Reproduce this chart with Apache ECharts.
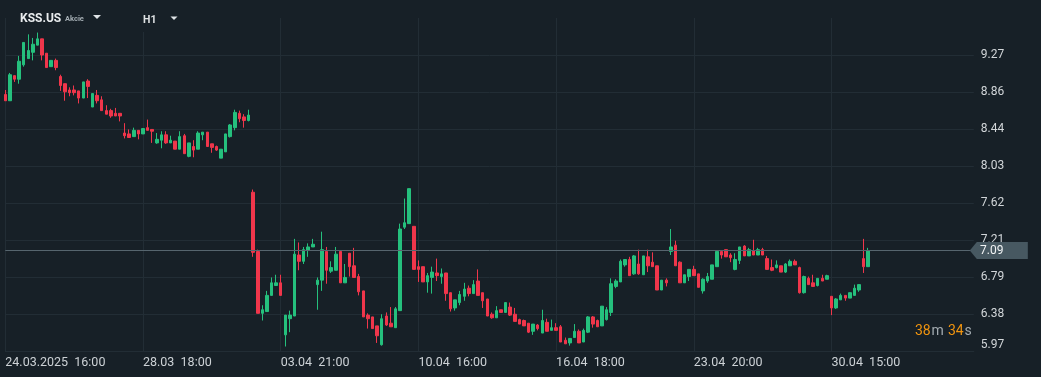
<!DOCTYPE html>
<html>
<head>
<meta charset="utf-8">
<title>KSS.US H1</title>
<script src="https://cdn.jsdelivr.net/npm/echarts@6.0.0/dist/echarts.min.js"></script>
<style>
  html, body { margin: 0; padding: 0; background: #172027; }
  #main { width: 1041px; height: 377px; }
</style>
</head>
<body>
<div id="main"></div>
<script type="text/javascript">
// H1 candles (open / close / low / high)
var opens = [
  8.83, 8.76, 9.04, 9.00, 9.16, 9.23, 9.30, 9.38, 9.45, 9.29,
  9.14, 9.21, 9.03, 8.95, 8.88, 8.88, 8.87, 8.79, 8.98, 8.69,
  8.82, 8.77, 8.65, 8.65, 8.62, 8.62, 8.40, 8.39, 8.36, 8.43,
  8.39, 8.46, 8.44, 8.29, 8.32, 8.38, 8.29, 8.31, 8.22, 8.37,
  8.14, 8.25, 8.22, 8.38, 8.41, 8.28, 8.25, 8.12, 8.19, 8.36,
  8.46, 8.62, 8.58, 8.54, 7.74, 7.08, 6.39, 6.41, 6.59, 6.70,
  6.73, 6.15, 6.33, 6.36, 7.04, 6.97, 7.09, 7.13, 6.71, 6.76,
  7.08, 6.86, 6.87, 7.08, 6.73, 7.06, 6.92, 6.80, 6.64, 6.37,
  6.35, 6.25, 6.04, 6.36, 6.28, 6.23, 6.42, 7.35, 7.39, 7.36,
  6.91, 6.91, 6.74, 6.79, 6.84, 6.80, 6.84, 6.62, 6.45, 6.51,
  6.58, 6.67, 6.61, 6.75, 6.62, 6.55, 6.38, 6.34, 6.43, 6.40,
  6.46, 6.38, 6.32, 6.31, 6.28, 6.19, 6.26, 6.17, 6.29, 6.20,
  6.23, 6.24, 6.09, 6.06, 6.12, 6.19, 6.07, 6.18, 6.35, 6.31,
  6.25, 6.32, 6.40, 6.69, 6.74, 6.93, 6.99, 6.83, 6.94, 6.82,
  7.02, 6.96, 6.92, 6.65, 6.76, 7.08, 7.15, 6.96, 6.73, 6.80,
  6.88, 6.83, 6.64, 6.75, 6.77, 6.91, 7.08, 7.10, 7.04, 6.88,
  6.98, 7.14, 7.03, 7.09, 7.04, 7.10, 7.00, 6.90, 6.90, 6.92,
  6.85, 6.92, 6.97, 6.90, 6.62, 6.78, 6.73, 6.70, 6.78, 6.77,
  6.58, 6.45, 6.54, 6.59, 6.56, 6.59, 6.65, 7.00, 6.91
];
var closes = [
  8.76, 9.05, 9.00, 9.20, 9.41, 9.32, 9.39, 9.45, 9.27, 9.13,
  9.21, 9.13, 8.93, 8.86, 8.85, 8.85, 8.79, 8.97, 8.92, 8.84,
  8.76, 8.65, 8.61, 8.59, 8.59, 8.59, 8.37, 8.35, 8.43, 8.39,
  8.45, 8.43, 8.42, 8.33, 8.38, 8.29, 8.32, 8.22, 8.36, 8.17,
  8.29, 8.21, 8.40, 8.41, 8.25, 8.24, 8.21, 8.22, 8.39, 8.49,
  8.63, 8.56, 8.54, 8.60, 7.07, 6.39, 6.43, 6.59, 6.73, 6.73,
  6.59, 6.37, 6.37, 7.05, 6.97, 7.10, 7.13, 7.16, 6.76, 7.10,
  6.87, 6.90, 7.05, 6.73, 6.79, 6.91, 6.79, 6.63, 6.35, 6.33,
  6.22, 6.14, 6.33, 6.26, 6.24, 6.44, 7.33, 7.40, 7.78, 6.88,
  6.88, 6.74, 6.81, 6.85, 6.81, 6.83, 6.61, 6.44, 6.54, 6.60,
  6.66, 6.61, 6.71, 6.59, 6.53, 6.36, 6.34, 6.42, 6.40, 6.51,
  6.37, 6.30, 6.27, 6.25, 6.18, 6.27, 6.22, 6.31, 6.19, 6.23,
  6.20, 6.07, 6.05, 6.11, 6.19, 6.06, 6.20, 6.35, 6.27, 6.24,
  6.47, 6.43, 6.72, 6.75, 6.97, 6.99, 6.81, 7.03, 6.83, 7.03,
  6.92, 6.91, 6.65, 6.76, 6.73, 7.13, 6.92, 6.73, 6.82, 6.88,
  6.81, 6.68, 6.77, 6.80, 6.93, 7.08, 7.04, 7.02, 7.01, 6.99,
  7.13, 7.03, 7.10, 7.04, 7.10, 7.04, 6.88, 6.87, 6.93, 6.85,
  6.94, 6.97, 6.93, 6.62, 6.80, 6.71, 6.69, 6.78, 6.75, 6.81,
  6.45, 6.55, 6.59, 6.56, 6.62, 6.67, 6.71, 6.91, 7.09
];
var lows = [
  8.76, 8.76, 8.97, 8.95, 9.14, 9.23, 9.21, 9.38, 9.21, 9.13,
  9.14, 9.10, 8.87, 8.76, 8.81, 8.82, 8.73, 8.79, 8.79, 8.69,
  8.73, 8.65, 8.61, 8.57, 8.59, 8.53, 8.34, 8.35, 8.36, 8.33,
  8.39, 8.43, 8.29, 8.28, 8.23, 8.28, 8.29, 8.22, 8.22, 8.17,
  8.13, 8.13, 8.22, 8.32, 8.25, 8.18, 8.20, 8.12, 8.19, 8.35,
  8.43, 8.52, 8.46, 8.53, 7.02, 6.39, 6.31, 6.41, 6.59, 6.70,
  6.59, 6.02, 6.18, 6.36, 6.87, 6.94, 7.02, 7.13, 6.43, 6.64,
  6.72, 6.84, 6.87, 6.73, 6.73, 6.80, 6.79, 6.59, 6.35, 6.22,
  6.22, 6.06, 6.03, 6.25, 6.24, 6.23, 6.42, 7.33, 7.39, 6.88,
  6.74, 6.74, 6.62, 6.61, 6.75, 6.72, 6.53, 6.41, 6.42, 6.48,
  6.53, 6.58, 6.61, 6.59, 6.45, 6.36, 6.33, 6.34, 6.40, 6.40,
  6.36, 6.30, 6.27, 6.25, 6.17, 6.15, 6.20, 6.17, 6.19, 6.20,
  6.20, 6.07, 6.05, 6.03, 6.12, 6.06, 6.07, 6.17, 6.23, 6.24,
  6.25, 6.31, 6.36, 6.67, 6.74, 6.91, 6.81, 6.82, 6.82, 6.82,
  6.85, 6.91, 6.65, 6.65, 6.69, 7.04, 6.92, 6.73, 6.73, 6.75,
  6.81, 6.68, 6.61, 6.73, 6.77, 6.91, 7.00, 7.02, 6.96, 6.87,
  6.94, 7.03, 7.03, 7.04, 7.04, 7.04, 6.88, 6.86, 6.89, 6.85,
  6.84, 6.92, 6.93, 6.61, 6.61, 6.71, 6.69, 6.69, 6.75, 6.77,
  6.37, 6.44, 6.54, 6.53, 6.56, 6.59, 6.63, 6.84, 6.91
];
var highs = [
  8.88, 9.07, 9.04, 9.26, 9.41, 9.50, 9.46, 9.52, 9.45, 9.29,
  9.21, 9.23, 9.05, 8.95, 8.91, 8.93, 8.87, 8.97, 9.00, 8.84,
  8.88, 8.81, 8.71, 8.67, 8.68, 8.62, 8.51, 8.44, 8.46, 8.43,
  8.45, 8.55, 8.44, 8.40, 8.42, 8.42, 8.37, 8.31, 8.42, 8.39,
  8.29, 8.32, 8.42, 8.41, 8.41, 8.28, 8.26, 8.22, 8.39, 8.50,
  8.66, 8.65, 8.61, 8.66, 7.77, 7.10, 6.48, 6.64, 6.79, 6.82,
  6.82, 6.37, 6.42, 7.22, 7.18, 7.13, 7.17, 7.22, 6.79, 7.30,
  7.13, 6.97, 7.13, 7.08, 6.94, 7.06, 7.12, 6.83, 6.64, 6.39,
  6.35, 6.25, 6.38, 6.40, 6.46, 6.46, 7.39, 7.67, 7.78, 7.36,
  6.98, 6.91, 6.84, 6.91, 7.00, 6.89, 6.84, 6.62, 6.54, 6.64,
  6.73, 6.70, 6.76, 6.88, 6.62, 6.55, 6.40, 6.47, 6.43, 6.51,
  6.51, 6.45, 6.33, 6.32, 6.28, 6.27, 6.27, 6.43, 6.33, 6.32,
  6.28, 6.26, 6.12, 6.11, 6.27, 6.21, 6.22, 6.36, 6.36, 6.32,
  6.47, 6.46, 6.78, 6.77, 6.99, 6.99, 7.02, 7.04, 7.10, 7.03,
  7.10, 7.07, 6.92, 6.76, 6.78, 7.33, 7.20, 6.97, 6.82, 6.88,
  6.92, 6.83, 6.78, 6.84, 6.93, 7.08, 7.08, 7.10, 7.06, 7.06,
  7.13, 7.15, 7.12, 7.21, 7.12, 7.12, 7.03, 6.99, 6.98, 6.92,
  6.95, 6.99, 6.99, 6.91, 6.81, 6.80, 6.82, 6.78, 6.82, 6.82,
  6.58, 6.56, 6.61, 6.59, 6.62, 6.71, 6.71, 7.22, 7.12
];

// time labels and the candle they sit on
var xLabels = ['24.03.2025  16:00', '28.03  18:00', '03.04  21:00', '10.04  16:00', '16.04  18:00', '23.04  20:00', '30.04  15:00'];
var xLabelIdx = [0, 30, 60, 90, 120, 150, 180];

// price scale
var yTicks = [5.97, 6.38, 6.79, 7.21, 7.62, 8.03, 8.44, 8.86, 9.27];
var yMin = 5.97, yStep = 0.4125, yMax = 9.6825;
var lastPrice = 7.09;

// slots on the time axis (empty space on the right after the last candle)
var slots = 212;
var cats = [];
for (var i = 0; i < slots; i++) { cats.push(String(i)); }

var data = [];
for (var j = 0; j < opens.length; j++) {
  data.push([opens[j], closes[j], lows[j], highs[j]]);
}

var bg = '#172027';
var gridColor = '#222d35';
var upColor = '#25c07d';
var downColor = '#f0364b';

var myChart = echarts.init(document.getElementById('main'));
var option = {
  backgroundColor: bg,
  animation: false,
  textStyle: { fontFamily: 'Roboto' },
  grid: { left: 5.3, right: 67.2, top: 18, bottom: 26 },
  xAxis: {
    type: 'category',
    data: cats,
    boundaryGap: false,
    axisLine: { show: true, lineStyle: { color: gridColor } },
    axisTick: { show: false },
    axisLabel: {
      interval: function (idx) { return xLabelIdx.indexOf(idx) >= 0; },
      formatter: function (val, idx) {
        var k = xLabelIdx.indexOf(Number(val));
        return k >= 0 ? xLabels[k] : '';
      },
      color: '#cdd2d6',
      fontSize: 12.5,
      align: 'left',
      margin: 5
    },
    splitLine: {
      show: true,
      interval: function (idx) { return xLabelIdx.indexOf(idx) >= 0; },
      lineStyle: { color: gridColor }
    }
  },
  yAxis: {
    type: 'value',
    position: 'right',
    min: yMin,
    max: yMax,
    interval: yStep,
    axisLine: { show: false },
    axisTick: { show: false },
    axisLabel: {
      showMaxLabel: false,
      verticalAlignMinLabel: 'bottom',
      color: '#d2d6d9',
      fontSize: 12,
      align: 'left',
      margin: 7,
      formatter: function (v) {
        var best = 0;
        for (var t = 1; t < yTicks.length; t++) {
          if (Math.abs(yTicks[t] - v) < Math.abs(yTicks[best] - v)) best = t;
        }
        return yTicks[best].toFixed(2);
      }
    },
    splitLine: { show: true, showMaxLine: false, showMinLine: false, lineStyle: { color: gridColor } }
  },
  series: [{
    type: 'candlestick',
    data: data,
    barWidth: 3,
    clip: false,
    itemStyle: {
      color: upColor,
      color0: downColor,
      borderColor: upColor,
      borderColor0: downColor,
      borderWidth: 1
    },
    markLine: {
      silent: true,
      symbol: ['none', 'none'],
      label: { show: false },
      lineStyle: { color: '#56656e', width: 1, type: 'solid' },
      data: [{ yAxis: lastPrice }]
    },
    markPoint: {
      silent: true,
      symbol: 'path://M0,8.5L7,0L58,0L58,17L7,17Z',
      symbolSize: [58, 17],
      symbolKeepAspect: false,
      symbolOffset: [25, 0],
      itemStyle: { color: '#475861' },
      label: {
        show: true,
        formatter: function () { return lastPrice.toFixed(2); },
        color: '#f2f4f5',
        fontSize: 12,
        offset: [-7, 0]
      },
      data: [{ coord: [cats[cats.length - 1], lastPrice] }]
    }
  }],
  graphic: [
    { type: 'rect', z: 10, silent: true, shape: { x: 128, y: 0, width: 62, height: 32 }, style: { fill: bg } },
    { type: 'text', z: 11, x: 20, y: 19, style: { text: 'KSS.US', fill: '#e9ecee', font: 'bold 12px Roboto', textVerticalAlign: 'middle', verticalAlign: 'middle' } },
    { type: 'text', z: 11, x: 65, y: 19.5, style: { text: 'Akcie', fill: '#a4adb3', font: 'bold 7.5px Roboto', textVerticalAlign: 'middle', verticalAlign: 'middle' } },
    { type: 'polygon', z: 11, shape: { points: [[93, 15], [101, 15], [97, 19]] }, style: { fill: '#dfe3e6' } },
    { type: 'text', z: 11, x: 143, y: 20.5, style: { text: 'H1', fill: '#dfe2e4', font: 'bold 10.5px Roboto', textVerticalAlign: 'middle', verticalAlign: 'middle' } },
    { type: 'polygon', z: 11, shape: { points: [[170.5, 16.5], [177.5, 16.5], [174, 20]] }, style: { fill: '#dfe3e6' } },
    { type: 'text', z: 11, x: 915, y: 331.5, style: { text: '38', fill: '#f0940f', font: '14px Roboto', textVerticalAlign: 'middle', verticalAlign: 'middle' } },
    { type: 'text', z: 11, x: 931.5, y: 331.5, style: { text: 'm', fill: '#a3abb0', font: '14px Roboto', textVerticalAlign: 'middle', verticalAlign: 'middle' } },
    { type: 'text', z: 11, x: 948, y: 331.5, style: { text: '34', fill: '#f0940f', font: '14px Roboto', textVerticalAlign: 'middle', verticalAlign: 'middle' } },
    { type: 'text', z: 11, x: 964.5, y: 331.5, style: { text: 's', fill: '#a3abb0', font: '14px Roboto', textVerticalAlign: 'middle', verticalAlign: 'middle' } }
  ]
};
myChart.setOption(option);
</script>
</body>
</html>
